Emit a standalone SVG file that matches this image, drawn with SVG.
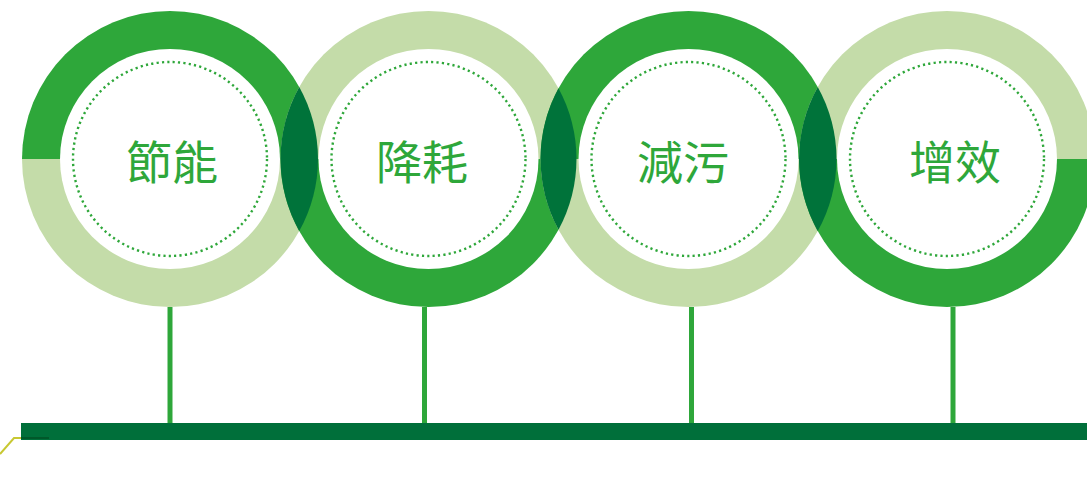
<svg xmlns="http://www.w3.org/2000/svg" width="1087" height="499" viewBox="0 0 1087 499">
<style>
.dk{fill:#2ea73a}
.lt{fill:#c4dca9}
.ov{fill:#00733a}
.inner{fill:#ffffff}
.dots{fill:none;stroke:#2ea73a;stroke-width:2.4;stroke-dasharray:2.2 3.2}
.lbl{font-family:"Noto Sans CJK TC","Noto Sans CJK SC",sans-serif;font-size:46px;fill:#2ea73a;text-anchor:middle}
.stem{stroke:#2ea73a;stroke-width:5}
</style>
<rect width="1087" height="499" fill="#ffffff"/>
<g id="node1">
<path class="dk" d="M22,159 A148,148 0 0 1 318,159 Z"/>
<path class="lt" d="M22,159 A148,148 0 0 0 318,159 Z"/>
<circle class="inner" cx="170" cy="159" r="110"/>
<circle class="dots" cx="170" cy="159" r="97"/>
<text class="lbl" x="172" y="179">節能</text>
</g>
<g id="node2">
<path class="lt" d="M280.5,159 A148,148 0 0 1 576.5,159 Z"/>
<path class="dk" d="M280.5,159 A148,148 0 0 0 576.5,159 Z"/>
<circle class="inner" cx="428.5" cy="159" r="110"/>
<circle class="dots" cx="428.5" cy="159" r="97"/>
<text class="lbl" x="422" y="179">降耗</text>
</g>
<g id="node3">
<path class="dk" d="M540.5,159 A148,148 0 0 1 836.5,159 Z"/>
<path class="lt" d="M540.5,159 A148,148 0 0 0 836.5,159 Z"/>
<circle class="inner" cx="688.5" cy="159" r="110"/>
<circle class="dots" cx="688.5" cy="159" r="97"/>
<text class="lbl" x="683" y="179">減污</text>
</g>
<g id="node4">
<path class="lt" d="M799,159 A148,148 0 0 1 1095,159 Z"/>
<path class="dk" d="M799,159 A148,148 0 0 0 1095,159 Z"/>
<circle class="inner" cx="947" cy="159" r="110"/>
<circle class="dots" cx="947" cy="159" r="97"/>
<text class="lbl" x="955" y="179">增效</text>
</g>
<g id="overlaps">
<path class="ov" d="M299.25,86.9 A148,148 0 0 1 299.25,231.1 A148,148 0 0 1 299.25,86.9 Z"/>
<path class="ov" d="M558.5,88.3 A148,148 0 0 1 558.5,229.7 A148,148 0 0 1 558.5,88.3 Z"/>
<path class="ov" d="M817.75,86.9 A148,148 0 0 1 817.75,231.1 A148,148 0 0 1 817.75,86.9 Z"/>
</g>
<g id="connectors">
<line class="stem" x1="170" y1="307" x2="170" y2="424"/>
<line class="stem" x1="424.5" y1="307" x2="424.5" y2="424"/>
<line class="stem" x1="691.5" y1="307" x2="691.5" y2="424"/>
<line class="stem" x1="953" y1="307" x2="953" y2="424"/>
<rect x="21" y="423" width="1066" height="17" fill="#006f3a"/>
<polyline points="0,454 14,438 21,438" fill="none" stroke="#c8c832" stroke-width="2"/>
<line x1="21" y1="438" x2="49" y2="438" stroke="#00582a" stroke-width="2"/>
</g>
</svg>
